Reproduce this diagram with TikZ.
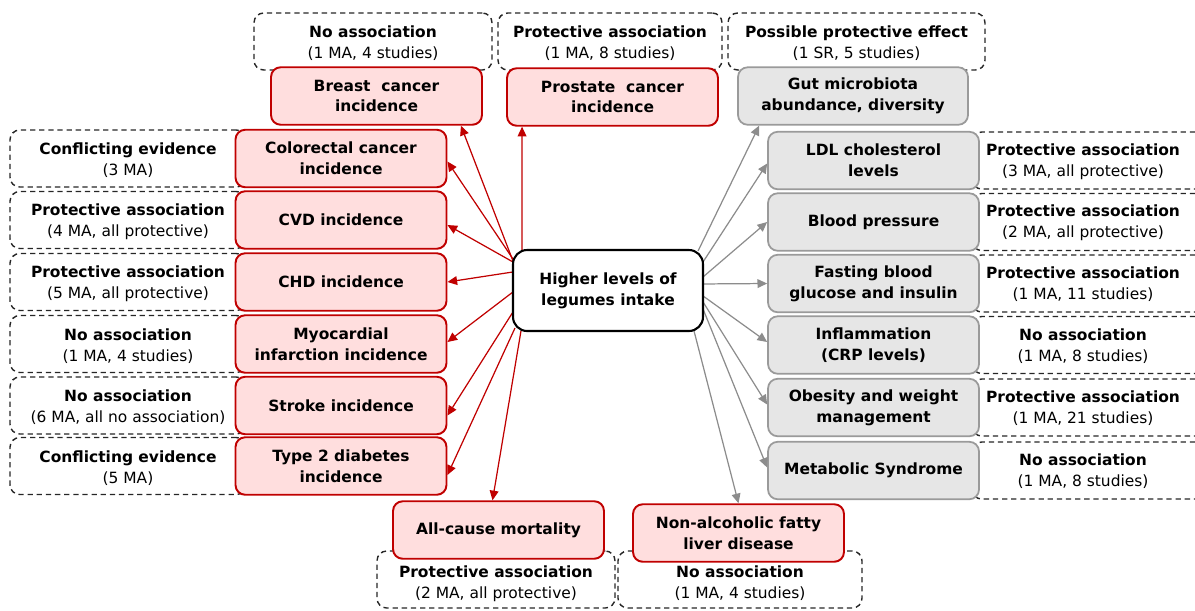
\documentclass[tikz,border=0pt]{standalone}
\usepackage{fontspec}
\setmainfont{DejaVu Sans}
\usetikzlibrary{calc,arrows.meta}
\definecolor{myred}{HTML}{C00000}
\definecolor{mypink}{HTML}{FFDEDE}
\definecolor{boxgray}{HTML}{E6E6E6}
\definecolor{bordergray}{HTML}{9A9A9A}
\definecolor{arrgray}{HTML}{8C8C8C}
\tikzset{
  every node/.style={font=\fontsize{8.8}{11.9}\selectfont, inner sep=0pt},
  redbox/.style={draw=myred, fill=mypink, line width=1.1pt, rounded corners=5.5pt, minimum width=4.22cm, minimum height=1.15cm, align=center, font=\fontsize{8.8}{11.9}\selectfont\bfseries},
  graybox/.style={draw=bordergray, fill=boxgray, line width=1pt, rounded corners=5.5pt, minimum width=4.22cm, minimum height=1.15cm, align=center, font=\fontsize{8.8}{11.9}\selectfont\bfseries},
  dashbox/.style={draw=black!85, dash pattern=on 3pt off 2.2pt, line width=0.8pt, rounded corners=5.5pt, minimum height=1.14cm},
  txt/.style={align=center},
  redarr/.style={draw=myred, line width=0.7pt, -{Triangle[length=5.5pt,width=5pt]}},
  grayarr/.style={draw=arrgray, line width=0.7pt, -{Triangle[length=5.5pt,width=5pt]}},
  centre/.style={draw=black, fill=white, line width=1.2pt, rounded corners=8pt, minimum width=3.8cm, minimum height=1.62cm, align=center, font=\fontsize{8.8}{11.9}\selectfont\bfseries}
}
\begin{document}
\begin{tikzpicture}[x=0.02cm, y=-0.02cm]
\useasboundingbox (0,0) rectangle (1195,610);

% dashed result boxes, top
\node[dashbox, minimum width=4.76cm] (dA) at (373,41.5) {};
\node[dashbox, minimum width=4.48cm] (dB) at (610,41.5) {};
\node[dashbox, minimum width=5.14cm] (dC) at (856.5,41.5) {};
\node[txt] (tA) at ($(dA)+(0,1.5)$) {\textbf{No association}\\(1 MA, 4 studies)};
\node[txt] (tB) at ($(dB)+(0,1.5)$) {\textbf{Protective association}\\(1 MA, 8 studies)};
\node[txt] (tC) at ($(dC)+(0,1.5)$) {\textbf{Possible protective effect}\\(1 SR, 5 studies)};

% dashed result boxes, left
\node[dashbox, minimum width=4.72cm] (dL1) at (128,158.5) {};
\node[dashbox, minimum width=4.72cm] (dL2) at (128,220) {};
\node[dashbox, minimum width=4.72cm] (dL3) at (128,282) {};
\node[dashbox, minimum width=4.72cm] (dL4) at (128,344) {};
\node[dashbox, minimum width=4.72cm] (dL5) at (128,405.5) {};
\node[dashbox, minimum width=4.72cm] (dL6) at (128,466) {};
\node[txt] (tL1) at ($(dL1)+(0,2)$) {\textbf{Conflicting evidence}\\(3 MA)};
\node[txt] (tL2) at ($(dL2)+(0,2)$) {\textbf{Protective association}\\(4 MA, all protective)};
\node[txt] (tL3) at ($(dL3)+(0,2)$) {\textbf{Protective association}\\(5 MA, all protective)};
\node[txt] (tL4) at ($(dL4)+(0,2)$) {\textbf{No association}\\(1 MA, 4 studies)};
\node[txt] (tL5) at ($(dL5)+(0,2)$) {\textbf{No association}\\(6 MA, all no association)};
\node[txt] (tL6) at ($(dL6)+(0,2)$) {\textbf{Conflicting evidence}\\(5 MA)};

% dashed result boxes, right (run off the page)
\foreach \yc in {160.5,222,283.5,345,407.5,470.5}{
  \draw[draw=black!85, dash pattern=on 3pt off 2.2pt, line width=0.8pt, rounded corners=5.5pt] (972,\yc-28.5) rectangle (1225,\yc+28.5);
}
\node[txt] (tR1) at (1083,161.5) {\textbf{Protective association}\\(3 MA, all protective)};
\node[txt] (tR2) at (1083,223) {\textbf{Protective association}\\(2 MA, all protective)};
\node[txt] (tR3) at (1083,284.5) {\textbf{Protective association}\\(1 MA, 11 studies)};
\node[txt] (tR4) at (1083,346) {\textbf{No association}\\(1 MA, 8 studies)};
\node[txt] (tR5) at (1083,408.5) {\textbf{Protective association}\\(1 MA, 21 studies)};
\node[txt] (tR6) at (1083,471.5) {\textbf{No association}\\(1 MA, 8 studies)};

% dashed result boxes, bottom
\node[dashbox, minimum width=4.76cm] (dD) at (496,579.5) {};
\node[dashbox, minimum width=4.88cm] (dE) at (740,579.5) {};
\node[txt] (tD) at ($(dD)+(0,4)$) {\textbf{Protective association}\\(2 MA, all protective)};
\node[txt] (tE) at ($(dE)+(0,4)$) {\textbf{No association}\\(1 MA, 4 studies)};

% outcome boxes
\node[redbox] (breast) at (376.5,96) {Breast~ cancer\\incidence};
\node[redbox] (prostate) at (612.5,97) {Prostate~ cancer\\incidence};
\node[graybox, minimum width=4.6cm] (gut) at (853,96) {Gut microbiota\\abundance, diversity};

\node[redbox] (col) at (341,158.5) {Colorectal cancer\\incidence};
\node[redbox] (cvd) at (341,220) {CVD incidence};
\node[redbox] (chd) at (341,282) {CHD incidence};
\node[redbox] (mi) at (341,344) {Myocardial\\infarction incidence};
\node[redbox] (stroke) at (341,405.5) {Stroke incidence};
\node[redbox] (t2d) at (341,466) {Type 2 diabetes\\incidence};

\node[graybox] (ldl) at (873.5,160.5) {LDL cholesterol\\levels};
\node[graybox] (bp) at (873.5,222) {Blood pressure};
\node[graybox] (fast) at (873.5,283.5) {Fasting blood\\glucose and insulin};
\node[graybox] (infl) at (873.5,345) {Inflammation\\(CRP levels)};
\node[graybox] (obes) at (873.5,407.5) {Obesity and weight\\management};
\node[graybox] (mets) at (873.5,470.5) {Metabolic Syndrome};

\node[redbox] (acm) at (498.5,530) {All-cause mortality};
\node[redbox] (nafld) at (738.5,533) {Non-alcoholic fatty\\liver disease};

% centre node placeholder for anchors
\path (608,290.5) node[centre, draw=none, fill=none] (c) {\phantom{Higher levels of}};

% arrows
\draw[redarr] ($(c.north west)+(1,12)$) -- ($(breast.south east)+(-22,0)$);
\draw[redarr] ($(c.north west)+(10,2)$) -- ($(prostate.south west)+(16,0)$);
\draw[redarr] ($(c.north west)+(1,10)$) -- ($(col.east)+(0,3)$);
\draw[redarr] ($(c.north west)+(1,13)$) -- ($(cvd.east)+(0,5)$);
\draw[redarr] ($(c.north west)+(1,23)$) -- (chd.east);
\draw[redarr] ($(c.north west)+(1,43)$) -- ($(mi.east)+(0,-2)$);
\draw[redarr] ($(c.north west)+(1,63)$) -- ($(stroke.east)+(0,10)$);
\draw[redarr] ($(c.south west)+(3,-4)$) -- ($(t2d.east)+(0,9)$);
\draw[redarr] ($(c.south west)+(9,-1)$) -- ($(acm.north)+(-6,0)$);

\draw[grayarr] ($(c.north east)+(-6,2)$) -- ($(gut.south west)+(22,0)$);
\draw[grayarr] ($(c.north east)+(-1,13)$) -- ($(ldl.west)+(0,3)$);
\draw[grayarr] ($(c.north east)+(-1,28)$) -- (bp.west);
\draw[grayarr] ($(c.north east)+(-1,35)$) -- (fast.west);
\draw[grayarr] ($(c.north east)+(-1,47)$) -- ($(infl.west)+(0,-3)$);
\draw[grayarr] ($(c.north east)+(-1,53)$) -- ($(obes.west)+(0,-3)$);
\draw[grayarr] ($(c.north east)+(-1,60)$) -- ($(mets.west)+(0,-3)$);
\draw[grayarr] ($(c.south east)+(-10,-1)$) -- (nafld.north);

% centre node on top
\node[centre] (cc) at (c) {Higher levels of\\legumes intake};
\end{tikzpicture}
\end{document}
